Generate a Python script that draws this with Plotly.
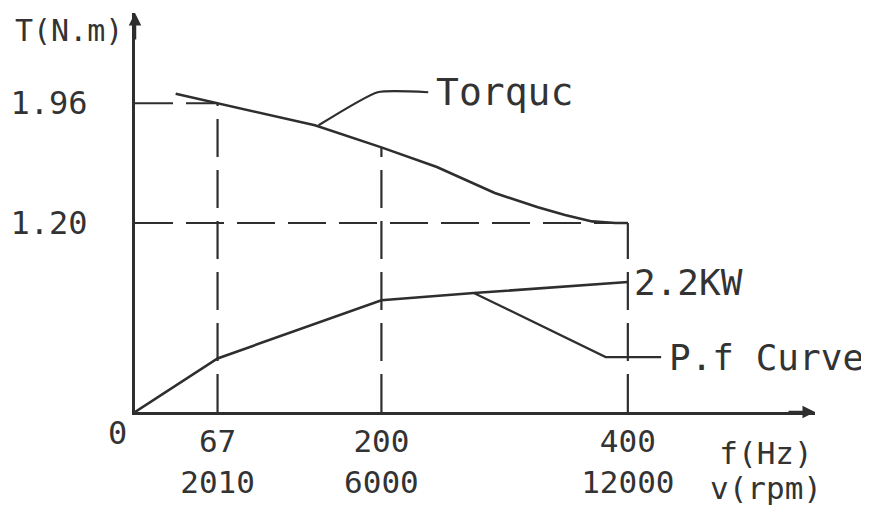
import plotly.graph_objects as go

# ---- data ----
torque_f = [33, 67, 146, 200, 245, 292, 327, 349, 371, 390, 400]
torque_T = [2.02, 1.96, 1.82, 1.68, 1.555, 1.39, 1.30, 1.25, 1.21, 1.20, 1.20]

power_f = [0, 67, 200, 275, 400]
power_P = [0.0, 0.34, 0.71, 0.755, 0.825]

x_tickvals = [67, 200, 400]
x_ticktext = ["67<br>2010", "200<br>6000", "400<br>12000"]
y_tickvals = [1.96, 1.20]
y_ticktext = ["1.96", "1.20"]

# reference (dashed) guide lines: (x0, y0, x1, y1) in data units
guides = [
    (0, 1.96, 67, 1.96),
    (67, 0, 67, 1.96),
    (200, 0, 200, 1.68),
    (0, 1.20, 400, 1.20),
    (400, 0, 400, 1.20),
]

# label leaders (data units)
torque_leader_f = [149, 197, 238]
torque_leader_T = [1.82, 2.03, 2.03]
pf_leader_f = [275, 382, 427]
pf_leader_P = [0.756, 0.349, 0.349]

X_MAX = 551.9
Y_MAX = 2.533
INK = "#2e2e2e"
TXT = "#333333"
FONT = "DejaVu Sans Mono"

fig = go.Figure()

for (x0, y0, x1, y1) in guides:
    fig.add_trace(go.Scatter(x=[x0, x1], y=[y0, y1], mode="lines",
                             line=dict(color=INK, width=2.2, dash="38px,13px"),
                             hoverinfo="skip", showlegend=False))

fig.add_trace(go.Scatter(x=torque_f, y=torque_T, mode="lines",
                         line=dict(color=INK, width=2.6),
                         showlegend=False, name="Torque"))
fig.add_trace(go.Scatter(x=power_f, y=power_P, mode="lines",
                         line=dict(color=INK, width=2.6),
                         showlegend=False, name="Power"))

fig.add_trace(go.Scatter(x=torque_leader_f, y=torque_leader_T, mode="lines",
                         line=dict(color=INK, width=2.2, shape="spline", smoothing=0.5),
                         hoverinfo="skip", showlegend=False))
fig.add_trace(go.Scatter(x=pf_leader_f, y=pf_leader_P, mode="lines",
                         line=dict(color=INK, width=2.2),
                         hoverinfo="skip", showlegend=False))

fig.add_annotation(x=torque_leader_f[-1], y=torque_leader_T[-1], text="Torquc",
                   showarrow=False, xanchor="left", yanchor="middle", xshift=6,
                   font=dict(family=FONT, size=38, color=TXT))
fig.add_annotation(x=power_f[-1], y=power_P[-1], text="2.2KW",
                   showarrow=False, xanchor="left", yanchor="middle", xshift=4,
                   font=dict(family=FONT, size=36, color=TXT))
fig.add_annotation(x=pf_leader_f[-1], y=pf_leader_P[-1], text="P.f Curve",
                   showarrow=False, xanchor="left", yanchor="middle", xshift=6,
                   font=dict(family=FONT, size=36, color=TXT))

# axis titles and origin
fig.add_annotation(x=0, y=2.425, text="T(N.m)", showarrow=False, xanchor="right",
                   yanchor="middle", xshift=-10, font=dict(family=FONT, size=30, color=TXT))
fig.add_annotation(x=0, y=0, text="0", showarrow=False, xanchor="right", yanchor="top",
                   xshift=-6, yshift=0, font=dict(family=FONT, size=32, color=TXT))
fig.add_annotation(x=512, y=0,
                   text='<span style="font-size:31px">f(Hz)</span><br>'
                        '<span style="font-size:31px">v(rpm)</span>',
                   showarrow=False, xanchor="center", yanchor="middle", yshift=-58,
                   font=dict(family=FONT, size=27, color=TXT))

# arrowheads on axes
fig.add_annotation(x=X_MAX, y=0, ax=-28, ay=0, text="", showarrow=True, arrowhead=2,
                   arrowsize=1, arrowwidth=2.5, arrowcolor=INK, standoff=0)
fig.add_annotation(x=0, y=Y_MAX, ax=0, ay=28, text="", showarrow=True, arrowhead=2,
                   arrowsize=1, arrowwidth=2.5, arrowcolor=INK, standoff=0)

fig.update_xaxes(range=[0, X_MAX], showgrid=False, zeroline=False, showline=True,
                 linecolor=INK, linewidth=3, tickvals=x_tickvals, ticktext=x_ticktext,
                 ticks="", ticklabelstandoff=0, automargin=False,
                 tickfont=dict(family=FONT, size=31, color=TXT))
fig.update_yaxes(range=[0, Y_MAX], showgrid=False, zeroline=False, showline=True,
                 linecolor=INK, linewidth=3, tickvals=y_tickvals, ticktext=y_ticktext,
                 ticks="", ticklabelstandoff=38, automargin=False,
                 tickfont=dict(family=FONT, size=32, color=TXT))

# the page body adds an 8 px offset, so the figure is sized/margined to compensate
fig.update_layout(width=861, height=499, margin=dict(l=127, r=54, t=5, b=95),
                  paper_bgcolor="white", plot_bgcolor="white", showlegend=False)

fig.write_html("out.html")
